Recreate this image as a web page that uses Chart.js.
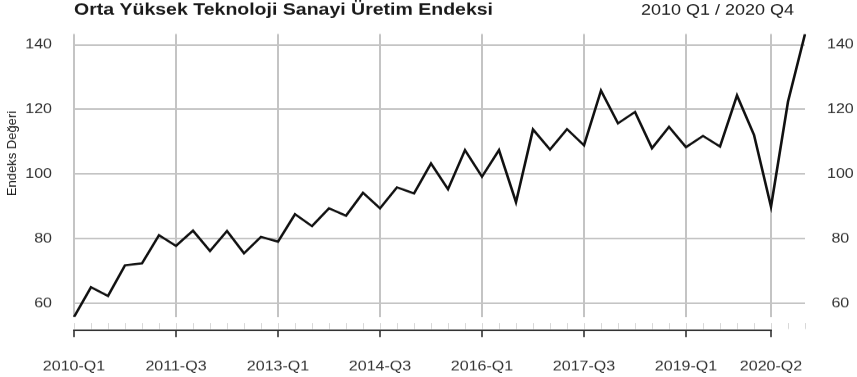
<!DOCTYPE html>
<html lang="tr">
<head>
<meta charset="utf-8">
<title>Orta Yüksek Teknoloji Sanayi Üretim Endeksi</title>
<script src="https://cdn.jsdelivr.net/npm/chart.js@4/dist/chart.umd.min.js"></script>
<style>
  html, body { margin: 0; padding: 0; background: #fff; overflow: hidden; }
  #wrap { width: 857px; height: 377px; overflow: hidden; }
  /* the plot is laid out on a taller canvas and compressed vertically */
  #chart { display: block; transform-origin: 0 0; }
</style>
</head>
<body>
<div id="wrap"><canvas id="chart" width="857" height="460"></canvas></div>
<script>
// Quarterly periods (2010 Q1 – 2020 Q4)
const quarters = [
  '2010-Q1','2010-Q2','2010-Q3','2010-Q4',
  '2011-Q1','2011-Q2','2011-Q3','2011-Q4',
  '2012-Q1','2012-Q2','2012-Q3','2012-Q4',
  '2013-Q1','2013-Q2','2013-Q3','2013-Q4',
  '2014-Q1','2014-Q2','2014-Q3','2014-Q4',
  '2015-Q1','2015-Q2','2015-Q3','2015-Q4',
  '2016-Q1','2016-Q2','2016-Q3','2016-Q4',
  '2017-Q1','2017-Q2','2017-Q3','2017-Q4',
  '2018-Q1','2018-Q2','2018-Q3','2018-Q4',
  '2019-Q1','2019-Q2','2019-Q3','2019-Q4',
  '2020-Q1','2020-Q2','2020-Q3','2020-Q4'
];

// Medium-high technology manufacturing production index
const indexValues = [
  55.8, 65.0, 62.3, 71.8,
  72.4, 81.1, 77.8, 82.5,
  76.2, 82.4, 75.5, 80.6,
  79.1, 87.6, 83.9, 89.4,
  87.1, 94.2, 89.4, 95.9,
  94.0, 103.3, 95.3, 107.4,
  99.2, 107.4, 91.3, 113.8,
  107.6, 113.9, 108.9, 125.8,
  115.7, 119.2, 108.0, 114.6,
  108.3, 111.8, 108.5, 124.3,
  112.1, 89.9, 122.4, 143.3
];

// Labelled periods on the time axis
const tickLabels = ['2010-Q1','2011-Q3','2013-Q1','2014-Q3','2016-Q1','2017-Q3','2019-Q1','2020-Q2'];

// Value ticks
const valueTicks = [60, 80, 100, 120, 140];

const titleText = 'Orta Yüksek Teknoloji Sanayi Üretim Endeksi';
const periodText = '2010 Q1 / 2020 Q4';
const yTitleText = 'Endeks Değeri';

const W = 857, H = 460, OUT_H = 377;
const SY = OUT_H / H;              // vertical compression factor
const cy = v => v / SY;            // output-pixel y -> canvas y
document.getElementById('chart').style.transform = 'scaleY(' + SY + ')';

const FONT = "'Liberation Sans', Arial, Helvetica, sans-serif";
const GRID = '#c4c4c4';
const TEXT = '#333333';
const majorSet = new Set(tickLabels.map(l => quarters.indexOf(l)));
const yMin = Math.min(...indexValues);
const yMax = Math.max(...indexValues);

// Titles, y-axis title and the detached bottom time axis
const decor = {
  id: 'decor',
  afterDraw(chart) {
    const { ctx, scales: { x } } = chart;
    ctx.save();

    // header
    ctx.fillStyle = '#1a1a1a';
    ctx.textBaseline = 'alphabetic';
    ctx.textAlign = 'left';
    ctx.font = 'bold 19.5px ' + FONT;
    ctx.fillText(titleText, chart.chartArea.left, cy(15));
    ctx.fillStyle = '#222';
    ctx.textAlign = 'right';
    ctx.font = '18px ' + FONT;
    ctx.fillText(periodText, 794, cy(15));

    // rotated y-axis title, condensed to a fixed length and thickness
    ctx.save();
    ctx.font = '16px ' + FONT;
    ctx.textAlign = 'center';
    ctx.textBaseline = 'middle';
    const m = ctx.measureText(yTitleText);
    const len = m.actualBoundingBoxLeft + m.actualBoundingBoxRight;
    const thick = m.actualBoundingBoxAscent + m.actualBoundingBoxDescent;
    ctx.translate(12, cy(153.5));
    ctx.rotate(-Math.PI / 2);
    ctx.scale(cy(84) / len, 13 / thick);
    ctx.fillStyle = '#1a1a1a';
    ctx.fillText(yTitleText, 0, 0);
    ctx.restore();

    // minor quarter ticks
    ctx.strokeStyle = '#d8d8d8';
    ctx.lineWidth = 1;
    ctx.beginPath();
    for (let i = 0; i < quarters.length; i++) {
      const px = Math.round(x.getPixelForValue(i)) + 0.5;
      ctx.moveTo(px, cy(323));
      ctx.lineTo(px, cy(329));
    }
    ctx.stroke();

    // axis line between first and last labelled period, with major ticks
    const majors = [...majorSet].sort((a, b) => a - b);
    const x0 = x.getPixelForValue(majors[0]);
    const x1 = x.getPixelForValue(majors[majors.length - 1]);
    ctx.strokeStyle = '#333';
    ctx.lineWidth = 1.8;
    ctx.beginPath();
    ctx.moveTo(x0 - 0.9, cy(330.3));
    ctx.lineTo(x1 + 0.9, cy(330.3));
    ctx.stroke();
    ctx.lineWidth = 1.6;
    ctx.beginPath();
    majors.forEach(i => {
      const px = x.getPixelForValue(i);
      ctx.moveTo(px, cy(330.3));
      ctx.lineTo(px, cy(337));
    });
    ctx.stroke();

    ctx.restore();
  }
};

new Chart(document.getElementById('chart'), {
  type: 'line',
  data: {
    labels: quarters,
    datasets: [{
      data: indexValues,
      borderColor: '#111',
      borderWidth: 2.6,
      pointRadius: 0,
      tension: 0,
      fill: false
    }]
  },
  options: {
    responsive: false,
    animation: false,
    devicePixelRatio: 1,
    layout: { padding: { top: cy(34), left: 0, right: 0, bottom: 0 } },
    plugins: {
      legend: { display: false },
      title: { display: false },
      tooltip: { enabled: false }
    },
    scales: {
      x: {
        type: 'category',
        offset: false,
        border: { display: false },
        grid: {
          drawTicks: false,
          lineWidth: 2,
          color: c => (c.tick && majorSet.has(c.tick.value)) ? GRID : 'rgba(0,0,0,0)'
        },
        ticks: {
          autoSkip: false,
          maxRotation: 0,
          minRotation: 0,
          padding: 51.5,
          color: TEXT,
          font: { family: FONT, size: 16 },
          callback: (v, i) => majorSet.has(i) ? quarters[i] : ''
        },
        afterFit: s => {
          s.height = H - cy(317);
          s.paddingLeft = 0;
          s.paddingRight = 0;
        }
      },
      y: {
        position: 'left',
        min: yMin,
        max: yMax,
        border: { display: false },
        grid: { drawTicks: false, lineWidth: 2, color: GRID },
        ticks: {
          stepSize: 20,
          includeBounds: false,
          padding: 22,
          color: TEXT,
          font: { family: FONT, size: 16 },
          callback: v => valueTicks.includes(v) ? String(v) : null
        },
        afterFit: s => { s.width = 74; }
      },
      y2: {
        position: 'right',
        min: yMin,
        max: yMax,
        border: { display: false },
        grid: { drawOnChartArea: false, drawTicks: false },
        ticks: {
          stepSize: 20,
          includeBounds: false,
          padding: 22,
          crossAlign: 'center',
          color: TEXT,
          font: { family: FONT, size: 16 },
          callback: v => valueTicks.includes(v) ? String(v) : null
        },
        afterFit: s => { s.width = W - 805; }
      }
    }
  },
  plugins: [decor]
});
</script>
</body>
</html>
